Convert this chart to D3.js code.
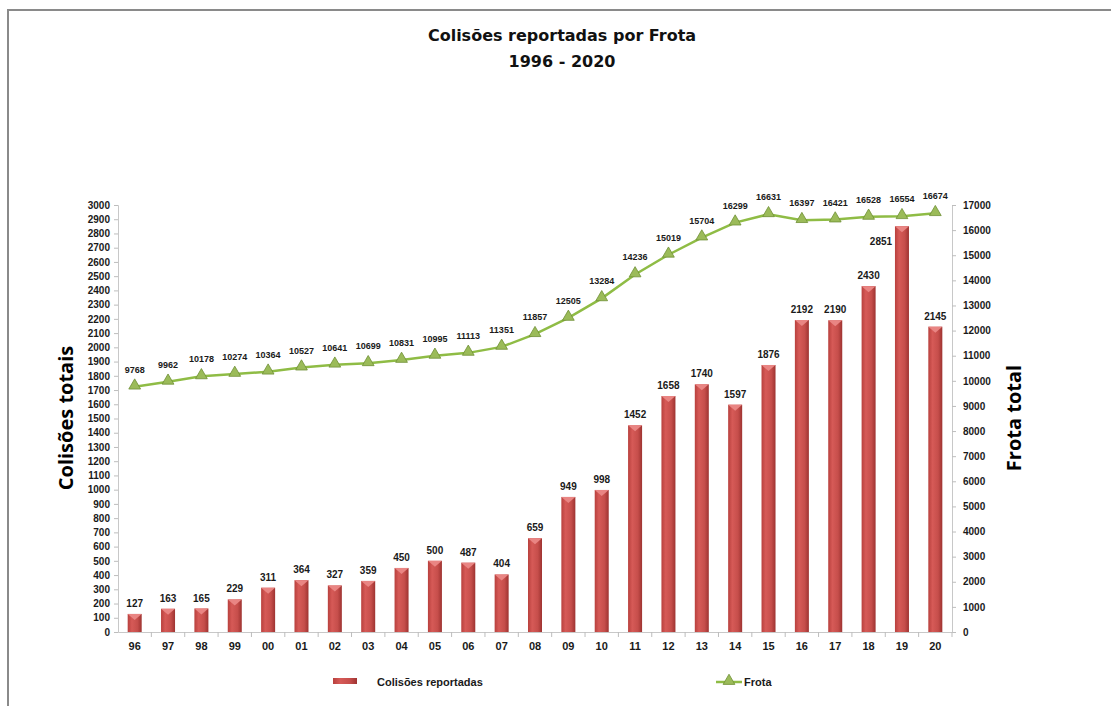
<!DOCTYPE html>
<html>
<head>
<meta charset="utf-8">
<script src="https://cdn.jsdelivr.net/npm/d3@7"></script>
<style>
  body { margin: 0; background: #fff; }
  svg text { font-family: "Liberation Sans", Arial, sans-serif; }
</style>
</head>
<body>
<svg id="chart" width="1111" height="706"></svg>
<script>
const anos = ["96","97","98","99","00","01","02","03","04","05","06","07","08",
              "09","10","11","12","13","14","15","16","17","18","19","20"];
const colisoes = [127,163,165,229,311,364,327,359,450,500,487,404,659,
                  949,998,1452,1658,1740,1597,1876,2192,2190,2430,2851,2145];
const frota = [9768,9962,10178,10274,10364,10527,10641,10699,10831,10995,11113,11351,11857,
               12505,13284,14236,15019,15704,16299,16631,16397,16421,16528,16554,16674];
const leftTicks = d3.range(0, 3001, 100);
const rightTicks = d3.range(0, 17001, 1000);

const svg = d3.select("#chart");
const margin = {top: 205, right: 159, bottom: 74, left: 118};
const width = 1111 - margin.left - margin.right;
const height = 706 - margin.top - margin.bottom;

// frame
svg.append("path")
    .attr("d", "M8,706 V10 H1111")
    .attr("fill", "none")
    .attr("stroke", "#8a8a8a")
    .attr("stroke-width", 2);

// title
const title = svg.append("text")
    .attr("text-anchor", "middle")
    .style("font-family", "'Comic Sans MS', 'DejaVu Sans', sans-serif")
    .style("font-weight", "bold")
    .style("font-size", "16px")
    .attr("fill", "#111");
title.append("tspan").attr("x", 562).attr("y", 41).text("Colisões reportadas por Frota");
title.append("tspan").attr("x", 562).attr("y", 67).text("1996 - 2020");

const defs = svg.append("defs");
const grad = defs.append("linearGradient").attr("id", "barGrad")
    .attr("x1", "0%").attr("x2", "100%").attr("y1", "0%").attr("y2", "0%");
grad.append("stop").attr("offset", "0%").attr("stop-color", "#b8403d");
grad.append("stop").attr("offset", "30%").attr("stop-color", "#d65a57");
grad.append("stop").attr("offset", "70%").attr("stop-color", "#c64e4b");
grad.append("stop").attr("offset", "100%").attr("stop-color", "#9e3331");

const g = svg.append("g")
    .attr("transform", "translate(" + margin.left + "," + margin.top + ")");

const x = d3.scaleBand()
    .domain(anos)
    .range([0, width]);
const yL = d3.scaleLinear()
    .domain([0, 3000])
    .range([height, 0]);
const yR = d3.scaleLinear()
    .domain([0, 17000])
    .range([height, 0]);

// left axis
const axL = g.append("g")
    .call(d3.axisLeft(yL).tickValues(leftTicks).tickFormat(d3.format("d")).tickSize(4).tickPadding(4));
// right axis
const axR = g.append("g")
    .attr("transform", "translate(" + width + ",0)")
    .call(d3.axisRight(yR).tickValues(rightTicks).tickFormat(d3.format("d")).tickSize(4).tickPadding(7));
// bottom axis
const axB = g.append("g")
    .attr("transform", "translate(0," + height + ")")
    .call(d3.axisBottom(x).tickSize(0).tickPadding(10));
axB.selectAll(".tick").append("line")
    .attr("x1", x.bandwidth() / 2).attr("x2", x.bandwidth() / 2)
    .attr("y1", 0).attr("y2", 5)
    .attr("stroke", "#bdbdbd");

[axL, axR, axB].forEach(function(ax) {
    ax.select(".domain").attr("stroke", "#c8c8c8");
    ax.selectAll(".tick line").attr("stroke", "#bdbdbd");
    ax.selectAll("text")
        .attr("fill", "#1a1a1a")
        .style("font-size", "10px")
        .style("font-weight", "bold");
});
axB.selectAll("text").style("font-size", "11px");

// axis titles
svg.append("text")
    .attr("transform", "translate(73,418) rotate(-90)")
    .attr("text-anchor", "middle")
    .style("font-family", "'Open Sans', sans-serif")
    .style("font-size", "20px")
    .style("font-weight", "bold")
    .attr("fill", "#000")
    .text("Colisões totais");
svg.append("text")
    .attr("transform", "translate(1021,418) rotate(-90)")
    .attr("text-anchor", "middle")
    .style("font-family", "'Open Sans', sans-serif")
    .style("font-size", "20px")
    .style("font-weight", "bold")
    .attr("fill", "#000")
    .text("Frota total");

// bars
const bw = 14;
const maxCol = d3.max(colisoes);
const bars = g.selectAll(".bar")
    .data(colisoes)
  .enter().append("g")
    .attr("class", "bar");
bars.append("rect")
    .attr("x", function(d, i) { return x(anos[i]) + x.bandwidth() / 2 - bw / 2; })
    .attr("y", function(d) { return yL(d); })
    .attr("width", bw)
    .attr("height", function(d) { return height - yL(d); })
    .attr("fill", "url(#barGrad)");
// top bevel
bars.append("path")
    .attr("d", function(d, i) {
        const x0 = x(anos[i]) + x.bandwidth() / 2 - bw / 2;
        const y0 = yL(d);
        return "M" + x0 + "," + y0 + "H" + (x0 + bw) + "L" + (x0 + bw / 2) + "," + (y0 + 6) + "Z";
    })
    .attr("fill", "#e98583");
// the tallest bar's label sits to its left, clear of the line
bars.append("text")
    .attr("x", function(d, i) {
        return x(anos[i]) + x.bandwidth() / 2 - (d === maxCol ? 21 : 0);
    })
    .attr("y", function(d) { return d === maxCol ? yL(d) + 19 : yL(d) - 7; })
    .attr("text-anchor", "middle")
    .style("font-size", "10px")
    .style("font-weight", "bold")
    .attr("fill", "#1a1a1a")
    .text(function(d) { return d; });

// frota line
const line = d3.line()
    .x(function(d, i) { return x(anos[i]) + x.bandwidth() / 2; })
    .y(function(d) { return yR(d); });
g.append("path")
    .datum(frota)
    .attr("fill", "none")
    .attr("stroke", "#8fbc45")
    .attr("stroke-width", 2.5)
    .attr("d", line);

const tri = d3.symbol().type(d3.symbolTriangle).size(60);
g.selectAll(".pt")
    .data(frota)
  .enter().append("path")
    .attr("class", "pt")
    .attr("transform", function(d, i) {
        return "translate(" + (x(anos[i]) + x.bandwidth() / 2) + "," + (yR(d) - 1) + ")";
    })
    .attr("d", tri)
    .attr("fill", "#9bbb59")
    .attr("stroke", "#6e8f35")
    .attr("stroke-width", 0.8);

g.selectAll(".lbl")
    .data(frota)
  .enter().append("text")
    .attr("class", "lbl")
    .attr("x", function(d, i) { return x(anos[i]) + x.bandwidth() / 2; })
    .attr("y", function(d) { return yR(d) - 14; })
    .attr("text-anchor", "middle")
    .style("font-size", "9px")
    .style("font-weight", "bold")
    .attr("fill", "#1a1a1a")
    .text(function(d) { return d; });

// legend
const leg = svg.append("g");
leg.append("rect")
    .attr("x", 333).attr("y", 678).attr("width", 24).attr("height", 6)
    .attr("fill", "url(#barGrad)");
leg.append("text")
    .attr("x", 377).attr("y", 686)
    .style("font-size", "11px").style("font-weight", "bold")
    .attr("fill", "#1a1a1a")
    .text("Colisões reportadas");
leg.append("line")
    .attr("x1", 716).attr("x2", 742).attr("y1", 682).attr("y2", 682)
    .attr("stroke", "#8fbc45").attr("stroke-width", 2.5);
leg.append("path")
    .attr("transform", "translate(729,681)")
    .attr("d", tri)
    .attr("fill", "#9bbb59")
    .attr("stroke", "#6e8f35")
    .attr("stroke-width", 0.8);
leg.append("text")
    .attr("x", 744).attr("y", 686)
    .style("font-size", "11px").style("font-weight", "bold")
    .attr("fill", "#1a1a1a")
    .text("Frota");
</script>
</body>
</html>
